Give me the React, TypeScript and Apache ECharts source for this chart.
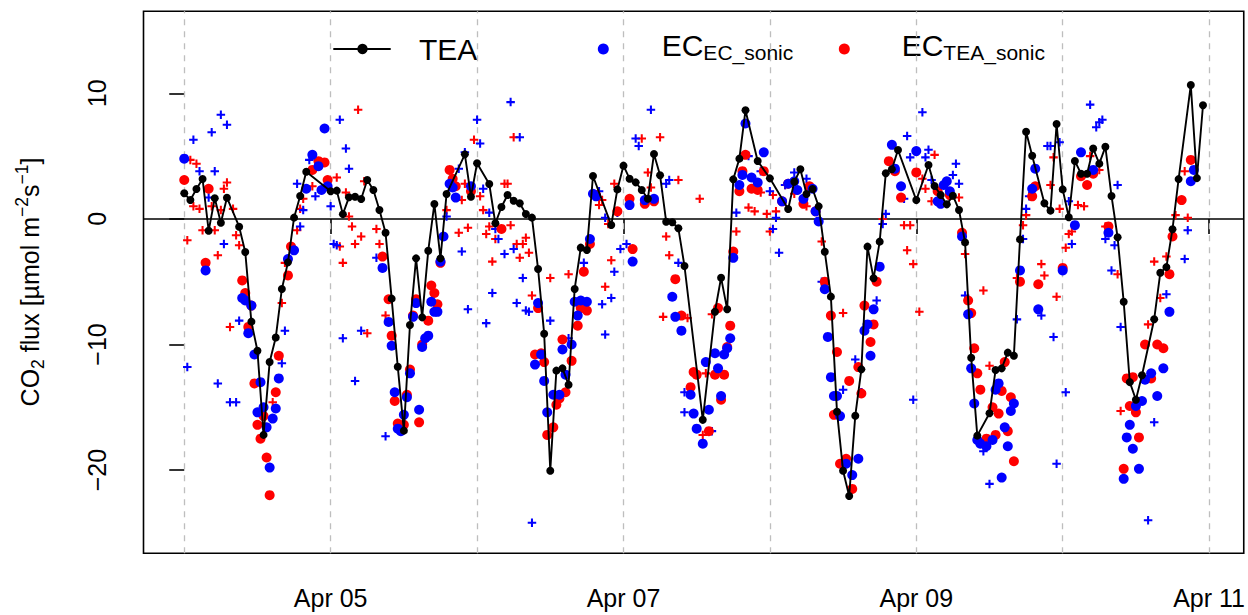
import React, { useEffect, useRef } from "react";
import * as echarts from "echarts";

const FONT = "'Liberation Sans', Arial, Helvetica, sans-serif";

// x axis: hours since Apr 04 00:00
const xTickHours = [24, 72, 120, 168];
const xTickLabels = ["Apr 05", "Apr 07", "Apr 09", "Apr 11"];
const dayLineHours = [0, 24, 48, 72, 96, 120, 144, 168];
const yTicks = [-20, -10, 0, 10];

// TEA (hourly)
const teaHours = [
  0, 1, 2, 3, 4, 5, 6, 7, 9, 10, 11, 12, 13, 14, 15, 16, 17, 18, 19, 20,
  24, 25, 26, 27, 28, 29, 30, 31, 32, 33, 34, 35, 36, 37, 38, 39, 40, 41, 42, 43, 46, 47,
  48, 50, 51, 52, 53, 54, 55, 56, 57, 58, 59, 60, 61, 62, 63, 64, 65, 66, 67, 70, 71,
  72, 73, 74, 75, 76, 77, 78, 79, 80, 81, 82, 85, 87, 88, 89, 90, 91, 92, 94,
  96, 99, 100, 101, 102, 103, 104, 105, 106, 107, 108, 109, 110, 111, 112, 113, 114, 115, 116, 117,
  120, 122, 123, 124, 125, 126, 127, 128, 129, 130, 132, 133, 134, 135, 136, 137, 138, 139, 141, 142, 143,
  144, 145, 146, 147, 148, 149, 150, 151, 152, 153, 154, 155, 156, 157, 159, 160, 161, 162, 163, 165, 166, 167,
];
const teaValues = [
  2.04, 1.5, 2.38, 3.18, -0.94, 1.64, -0.3, 1.69, -0.62, -2.63, -8.18, -10.5, -17.2, -11.4, -9.45, -5.58, -3.46, 0.1, 1.82, 3.76,
  2.2, 2.25, 0.38, 1.72, 1.77, 1.58, 3.1, 2.3, 0.71, -1.1, -6.35, -11.77, -16.86, -8.45, -3.14, -7.84, -2.53, 1.19, -3.14, 1.98, 5.14, 1.77,
  4.43, 2.78, -0.35, 0.95, 1.9, 1.45, 1.24, 0.39, 0.1, -3.99, -9.14, -20.05, -12.08, -11.9, -13.2, -5.58, -2.29, -2.48, 3.42, -0.49, 2.35,
  4.24, 3.2, 2.91, 2.3, 1.61, 5.17, 3.47, -0.22, -0.27, -0.75, -3.75, -16.0, -7.39, -4.68, -7.2, 3.15, 4.8, 8.65, 4.61,
  3.23, 0.79, 2.96, 3.95, 1.98, 2.38, 1.0, -2.61, -6.19, -15.35, -20.05, -22.06, -15.67, -11.98, -2.21, -4.73, -1.81, 3.63, 3.95, 5.49,
  1.5, 4.29, 2.62, 1.9, 1.16, 1.85, 0.71, -1.87, -11.05, -17.26, -15.48, -12.03, -11.9, -10.65, -10.89, -1.63, 6.94, 5.03, 1.24, 0.66, 7.56,
  2.35, 0.13, 4.61, 3.6, 3.6, 5.6, 4.4, 5.74, 1.83, -1.46, -6.6, -13.0, -14.4, -12.45, -7.99, -4.29, -3.84, -0.82, 3.17, 10.66, 3.25, 9.05,
];

// EC with EC sonic (blue dots): [hour, flux]
const ecEcSonic: [number, number][] = [
  [0, 4.8], [3.5, -4.1], [9.5, -6.3], [10, -6.5], [10.5, -9.1], [11, -6.9], [11.5, -10.8], [12, -15.4], [12.5, -13.0],
  [13, -15.0], [13.5, -16.6], [14, -19.8], [14.5, -15.9], [15, -15.1], [15.5, -12.7], [17, -3.2], [18, -2.5], [20, 2.4],
  [21, 5.1], [22, 4.2], [22.5, 2.3], [23, 7.2], [23.5, 2.6],
  [32.5, -3.9], [33.5, -8.2], [34, -10.1], [34.5, -13.8], [35, -16.7], [35.5, -16.9], [36, -15.6], [36.5, -14.2], [37, -12.3],
  [37.5, -7.8], [38, -6.7], [38.5, -15.2], [39, -10.2], [39.5, -9.5], [40, -9.3], [40.5, -6.6], [41, -7.4], [41.5, -7.4],
  [42, -3.4], [42.5, -1.4], [43.5, 2.8], [44, 2.5], [44.5, 1.7], [47, 2.6],
  [57.5, -11.6], [58, -6.7], [58.5, -10.8], [59, -12.9], [59.5, -15.4], [60.5, -14.0], [61.5, -14.0], [62, -10.4], [62.5, -12.4],
  [63.5, -10.0], [64, -6.6], [64.5, -7.7], [65, -6.5], [66, -6.6], [66.5, -1.6], [67, 2.0], [67.5, 1.8], [73, 1.1], [73.5, -3.4],
  [75.5, 1.5], [77, 1.6], [80, -6.2], [80.5, -7.8], [81.5, -8.9], [83, -14.0], [83.5, -15.5], [84, -16.7], [85, -17.9],
  [85.5, -11.4], [86, -15.2], [87, -10.7], [87.5, -11.9], [88, -14.1], [88.5, -10.8], [89, -10.3], [89.5, -9.5], [90, -3.1],
  [91, 2.7], [91.5, 3.5], [92, 7.6], [93, 3.3], [94, 2.9], [95, 5.3], [98, 1.4], [99, 2.8],
  [100, 3.0], [100.5, 2.3], [101.5, 1.6], [103, 2.4], [103.5, 0.6], [104, -0.2], [105, -5.6], [105.5, -9.4], [106, -12.6],
  [106.5, -14.1], [107, -14.1], [107.5, -15.7], [108.5, -19.5], [109.5, -20.4], [110.5, -19.1], [111.5, -8.9], [112, -8.4],
  [112.5, -10.9], [113, -7.2], [114, -3.8], [116, 5.9], [116.5, 4.0], [117.5, 2.6], [120, 5.4], [123.5, 1.4],
  [124, 1.2], [124.5, 2.7], [125, 3.0], [125.5, 2.2], [127.5, -1.4], [128.5, -7.6], [129, -11.9], [129.5, -14.7], [130, -17.6],
  [130.5, -17.9], [131.5, -18.1], [132.5, -17.6], [133, -13.6], [133.5, -13.1], [134.5, -16.6], [135, -18.1], [134, -20.6],
  [135.5, -15.3], [136, -14.7], [137, -4.1], [139, 2.4], [139.5, 4.0], [140, -7.2], [144, -4.1], [146, -0.5], [147, 5.3],
  [149, 3.9], [151.5, -1.1], [155, -16.4], [154.5, -17.4], [155.5, -18.3], [154, -20.7], [156, -14.9], [157, -14.5],
  [157.5, -12.8], [158.5, -12.3], [156.5, -19.9], [159.5, -14.1], [160.5, -11.9], [161.5, -7.4], [165, 3.0], [165.5, 3.9],
];

// EC with TEA sonic (red dots)
const ecTeaSonic: [number, number][] = [
  [0, 3.1], [4, 2.4], [3.5, -3.5], [9.5, -4.9], [10, -5.9], [11, -6.9], [10.5, -8.6], [11.5, -13.1], [13, -15.7], [12, -16.4],
  [12.5, -17.5], [13.5, -19.0], [14, -22.0], [15, -13.8], [15.5, -10.9], [17, -4.5], [17.5, -2.2], [21, 3.9], [22, 4.6],
  [23, 4.5], [23.5, 3.1],
  [32.5, -3.0], [33.5, -6.4], [34, -9.3], [34.5, -14.5], [35, -16.3], [36, -16.4], [36.5, -14.0], [37, -12.0], [37.5, -7.7],
  [38, -6.4], [38.5, -16.2], [39, -10.0], [40, -8.1], [40.5, -5.3], [41, -5.9], [41.5, -6.8], [42, -3.5], [43.5, 3.9],
  [44, 3.2], [44.5, 2.6], [47, 2.2],
  [52, -0.8], [58, -7.1], [57.5, -10.8], [58.5, -10.7], [59, -11.4], [59.5, -17.2], [60.5, -16.6], [61, -14.8], [61.5, -14.3],
  [62.5, -13.8], [62, -9.6], [63.5, -11.3], [64.5, -8.5], [65, -7.1], [65.5, -4.2], [66, -7.3], [66.5, -2.0], [67.5, 1.9],
  [71, 0.6], [73, 1.6], [73.5, -2.4],
  [75.5, 1.2], [77, 1.4], [80.5, -4.8], [81.5, -7.7], [83, -13.4], [83.5, -12.2], [84, -12.4], [86, -16.9], [87, -12.4],
  [87.5, -7.1], [88, -14.4], [88.5, -12.4], [89, -10.2], [89.5, -8.5], [90, -2.6], [91, 2.2], [91.5, 3.8], [92, 5.1],
  [93, 2.4], [94, 2.3], [95, 3.8], [98, 1.4],
  [99, 2.8], [101.5, 1.2], [102.5, 2.6], [103.5, 0.6], [105, -5.0], [106, -7.7], [107, -10.6], [109, -12.9], [110.5, -11.8],
  [111, -13.9], [106.5, -15.6], [107.5, -19.5], [108.5, -19.1], [109.5, -21.5], [111.5, -6.9], [113, -8.4], [112.5, -9.8],
  [113.5, -5.0], [115.5, 4.6], [116.5, 3.8], [117.5, 1.7], [120, 3.7],
  [123.5, 2.2], [125.5, 1.9], [127.5, -1.1], [128.5, -6.5], [129, -7.5], [129.5, -10.3], [130, -12.3], [130.5, -13.6],
  [131.5, -17.5], [132.5, -15.0], [133, -17.2], [133.5, -15.5], [134, -13.7], [134.5, -11.4], [135, -16.9], [135.5, -14.2],
  [136, -19.3], [137, -5.0], [139, 1.8], [139.5, 2.6], [140, -5.2], [144, -3.9], [147, 3.4],
  [148, 2.7], [149, 3.6], [151.5, -0.6], [154.5, -12.7], [155.5, -12.6], [155, -14.9], [156, -15.4], [156.5, -17.4],
  [154, -19.9], [157.5, -10.0], [158.5, -12.7], [159.5, -10.0], [160.5, -10.3], [161.5, -4.4], [162, -1.4], [163.5, 1.5], [165, 4.7],
];

// flagged EC_EC_sonic values (blue crosses)
const ecEcSonicFlagged: [number, number][] = [
  [1.5, 6.3], [4.5, 6.9], [6, 8.3], [7, 7.5], [2.5, 3.8], [5, 3.8], [4, 1.7], [6.5, -2.0], [0.5, -11.8], [5.5, -13.1],
  [7.5, -14.6], [8.5, -14.6], [9, -8.1], [16.5, -8.9], [16, -11.5], [18.5, 2.8], [19.5, 0.7], [19, -0.6], [20.5, 4.7],
  [21.5, 1.8], [24, 1.0], [24.5, -2.0], [25, -2.1], [25.5, 7.9], [26, -9.5],
  [26.5, 5.6], [27, 4.0], [28, -12.9], [29, -8.9], [31.5, -3.1], [33, -17.3], [43, 0.2], [45, 4.0], [45.5, -2.6], [46, 5.3],
  [46.5, -7.2], [48, 7.9], [48.5, 6.0], [49, 2.4], [49.5, -8.3],
  [53.5, 9.3], [55, 6.5], [50, 0.5], [51, -0.8], [51.5, -1.6], [50.5, -5.9], [52.5, -2.8], [54, -2.4], [55.5, -4.7],
  [54.5, -6.7], [56, -7.3], [56.5, -7.4], [57, -24.2], [60, -8.1], [63, -9.5], [65.5, -3.5], [68, 2.2], [69, 0.1],
  [70.5, -4.2], [70, -6.3], [68.5, -6.8], [69, -9.2], [71, 0.5], [71.5, -2.4], [72.5, -2.0], [74, 6.4], [74.5, 5.8],
  [76.5, 8.7], [79, 2.8], [79.5, 3.1], [81, -3.5], [82, -13.8], [82, -15.4], [86.5, -16.9], [90.5, 0.5], [92.5, 5.0],
  [94.5, 3.8], [96, 2.2], [97, 0.1], [96.5, -0.8], [97.5, -2.7], [98.5, 2.7],
  [100, 3.7], [102, 3.2], [104.5, -5.0], [108, -13.6], [110, -11.2], [111, -13.8], [113.5, -6.5], [115, 0.4], [114.5, -0.4],
  [118, 1.6], [118.5, 6.6], [119, 4.9], [121, 8.5], [121.5, 4.9], [122, 5.5], [122.5, 3.1], [119.5, -14.4],
  [126.5, 4.4], [126, 3.5], [127, 2.8], [128, -6.1], [131, -18.5], [132, -21.1], [136.5, -8.0], [138, 0.8], [137.5, -1.6],
  [138.5, 1.8], [140.5, -7.7], [141.5, 5.8], [142, 5.8], [143.5, 6.1], [145, 1.4], [145.5, -2.0], [142.5, -9.4],
  [144.5, -13.8], [143, -19.5],
  [148.5, 9.1], [149.5, 7.3], [150, 7.7], [150.5, 7.9], [153, 2.7], [151, -1.6], [152.5, -2.1], [152, -4.1], [153.5, -8.6],
  [159, -16.2], [158, -24.0], [161, -6.0], [164, -3.2], [164.5, -0.9],
];

// flagged EC_TEA_sonic values (red crosses)
const ecTeaSonicFlagged: [number, number][] = [
  [1, 4.7], [2, 4.4], [1.5, 1.0], [2.5, 0.8], [0.5, -1.7], [3, -0.9], [5, -0.9], [4.5, 1.0], [6, 0.7], [6.5, 2.4], [7, 2.9],
  [8, 0.8], [5.5, -2.9], [8.5, -1.3], [9, -2.1], [7.5, -8.6], [16, -6.7], [14.5, -14.6], [16.5, -3.5], [18.5, -0.9],
  [19, 0.8], [19.5, 1.6], [21, 2.6], [25, 3.3], [26, -3.5],
  [28.5, 8.7], [26.5, 2.1], [27, 0.2], [27.5, -0.6], [29, -1.4], [28, -2.0], [25.5, -2.2], [29.5, 3.0], [31.5, -0.8],
  [32, -2.0], [30, -9.1], [33, -7.7], [43, 0.7], [45, -1.1], [45.5, 1.5], [46, 2.8], [46.5, -0.7], [47.5, 6.3], [48.5, 1.8],
  [49, 0.7], [49.5, -1.2],
  [54, 6.5], [52.5, 2.8], [53, 2.8], [50, -0.6], [51, -1.6], [53.5, -0.5], [50.5, -3.4], [54.5, -2.0], [55.5, -2.0],
  [56, -1.5], [55, -3.1], [56.5, -2.7], [57, -6.1], [60, -4.7], [63, -4.4], [68, 1.1], [68.5, 1.5], [70.5, 2.8], [70, -3.3],
  [69, -5.4], [69.5, -0.4],
  [75, 6.4], [78, 6.5], [76, 3.7], [76.5, 2.5], [81, 3.1], [84.5, 1.6], [79, -1.4], [79.5, -2.9], [78.5, -7.8], [82.5, -7.9],
  [86.5, -7.6], [85.5, -12.3], [85, -17.2], [90.5, -1.0], [92.5, 0.9], [93.5, 0.6], [94.5, 2.1], [95.5, 0.4], [96, -1.0],
  [96.5, 1.9], [97, 0.6], [98.5, 2.7],
  [100, 2.0], [102, 1.0], [104.5, -1.8], [108, -7.5], [111, -13.8], [114.5, 0.0], [118, -0.5], [119, -0.5], [118.5, -2.5],
  [119.5, -3.6], [120.5, -7.4], [121, 3.2], [121.5, 2.4], [122.5, 1.4], [123, 5.1],
  [127, 1.7], [125.5, 2.2], [128, -2.8], [131, -5.7], [132, -11.7], [136.5, -4.7], [137.5, -0.5], [138, 0.3], [140.5, -3.6],
  [141, -4.5], [142, 2.7], [142.5, 4.9], [143.5, 0.8], [143, -6.2], [144.5, -2.3], [145, -1.2], [145.5, -1.0], [146.5, 1.1],
  [147.5, 1.0],
  [148.5, 5.0], [150, 3.9], [151, -0.6], [153, -4.4], [153.5, -15.3], [158, -8.4], [159, -3.4], [160, -6.3], [161, -3.0],
  [162.5, 0.3], [164, 3.8], [164.5, 0.1],
];

const CROSS = "path://M3.8,0H6.2V3.8H10V6.2H6.2V10H3.8V6.2H0V3.8H3.8Z";

function buildOption(): any {
  const teaData = teaHours.map((h, i) => [h, teaValues[i]]);
  const markLineData: any[] = dayLineHours.map((h) => ({
    xAxis: h,
    lineStyle: { type: [6, 6], color: "#bebebe", width: 1.3 },
  }));
  markLineData.push({ yAxis: 0, lineStyle: { type: "solid", color: "#000", width: 1.6 } });

  const richTitle = {
    n: { fontSize: 25, lineHeight: 34, fontFamily: FONT, color: "#000" },
    sub: { fontSize: 17.5, lineHeight: 17.5, verticalAlign: "bottom", fontFamily: FONT, color: "#000" },
    sup: { fontSize: 17.5, lineHeight: 17.5, verticalAlign: "top", fontFamily: FONT, color: "#000" },
  };
  const richLegend = {
    m: { fontSize: 30, lineHeight: 35, fontFamily: FONT, color: "#000" },
    s: { fontSize: 21, lineHeight: 21, verticalAlign: "bottom", fontFamily: FONT, color: "#000" },
  };

  return {
    animation: false,
    backgroundColor: "#fff",
    grid: {
      left: 143.5,
      top: 11.2,
      width: 1102.5,
      height: 542,
      show: true,
      borderColor: "#000",
      borderWidth: 1.6,
      backgroundColor: "transparent",
    },
    xAxis: {
      type: "value",
      min: -6.68,
      max: 173.68,
      axisLine: { show: false },
      splitLine: { show: false },
      axisTick: {
        show: true,
        customValues: xTickHours,
        length: 15,
        lineStyle: { color: "#000", width: 1.6 },
      },
      axisLabel: {
        customValues: xTickHours,
        formatter: (v: number) => {
          const i = xTickHours.indexOf(Math.round(v));
          return i >= 0 ? xTickLabels[i] : "";
        },
        fontSize: 25,
        fontFamily: FONT,
        color: "#000",
        margin: 32,
      },
    },
    yAxis: {
      type: "value",
      min: -26.62,
      max: 16.54,
      axisLine: { show: false },
      splitLine: { show: false },
      axisTick: {
        show: true,
        customValues: yTicks,
        length: 15,
        lineStyle: { color: "#000", width: 1.6 },
      },
      axisLabel: {
        customValues: yTicks,
        rotate: 90,
        formatter: (v: number) => (v < 0 ? "\u2212" + Math.abs(v) : String(v)),
        fontSize: 25,
        fontFamily: FONT,
        color: "#000",
        margin: 34,
      },
    },
    graphic: [
      {
        type: "text",
        x: 30,
        y: 282,
        rotation: Math.PI / 2,
        style: {
          text: "{n|CO}{sub|2}{n| flux [\u00b5mol m}{sup|\u22122}{n|s}{sup|\u22121}{n|]}",
          rich: richTitle,
          align: "center",
          verticalAlign: "middle",
        },
      },
      {
        type: "line",
        shape: { x1: 333.3, y1: 49, x2: 390.7, y2: 49 },
        style: { stroke: "#000", lineWidth: 1.8 },
      },
      { type: "circle", shape: { cx: 362.5, cy: 49, r: 5.2 }, style: { fill: "#000" } },
      {
        type: "text",
        x: 419,
        y: 49.2,
        style: { text: "TEA", fontSize: 30, fontFamily: FONT, fill: "#000", align: "left", verticalAlign: "middle" },
      },
      { type: "circle", shape: { cx: 603.3, cy: 49, r: 5.5 }, style: { fill: "#0000ff" } },
      {
        type: "text",
        x: 661.7,
        y: 45.5,
        style: { text: "{m|EC}{s|EC_sonic}", rich: richLegend, align: "left", verticalAlign: "middle" },
      },
      { type: "circle", shape: { cx: 844.3, cy: 49, r: 5.5 }, style: { fill: "#ff0000" } },
      {
        type: "text",
        x: 901.7,
        y: 45.5,
        style: { text: "{m|EC}{s|TEA_sonic}", rich: richLegend, align: "left", verticalAlign: "middle" },
      },
    ],
    series: [
      {
        name: "EC_TEA_sonic flagged",
        type: "scatter",
        data: ecTeaSonicFlagged,
        symbol: CROSS,
        symbolSize: 8.5,
        itemStyle: { color: "#ff0000", opacity: 1 },
        silent: true,
        z: 2,
        markLine: {
          silent: true,
          symbol: ["none", "none"],
          label: { show: false },
          data: markLineData,
          z: 1,
        },
      },
      {
        name: "EC_EC_sonic flagged",
        type: "scatter",
        data: ecEcSonicFlagged,
        symbol: CROSS,
        symbolSize: 8.5,
        itemStyle: { color: "#0000ff", opacity: 1 },
        silent: true,
        z: 3,
      },
      {
        name: "EC_TEA_sonic",
        type: "scatter",
        data: ecTeaSonic,
        symbol: "circle",
        symbolSize: 10,
        itemStyle: { color: "#ff0000", opacity: 1 },
        silent: true,
        z: 4,
      },
      {
        name: "EC_EC_sonic",
        type: "scatter",
        data: ecEcSonic,
        symbol: "circle",
        symbolSize: 10,
        itemStyle: { color: "#0000ff", opacity: 1 },
        silent: true,
        z: 5,
      },
      {
        name: "TEA",
        type: "line",
        data: teaData,
        symbol: "circle",
        symbolSize: 8,
        showSymbol: true,
        showAllSymbol: true,
        itemStyle: { color: "#000", opacity: 1 },
        lineStyle: { color: "#000", width: 1.9 },
        silent: true,
        z: 6,
      },
    ],
  };
}

export default function App() {
  const ref = useRef<HTMLDivElement>(null);
  useEffect(() => {
    document.body.style.margin = "0";
    if (!ref.current) return;
    const chart = echarts.init(ref.current, null, { renderer: "svg" });
    chart.setOption(buildOption());
    return () => {
      chart.dispose();
    };
  }, []);
  return (
    <div
      ref={ref}
      style={{ position: "fixed", left: 0, top: 0, width: 1248, height: 615, background: "#fff" }}
    />
  );
}
